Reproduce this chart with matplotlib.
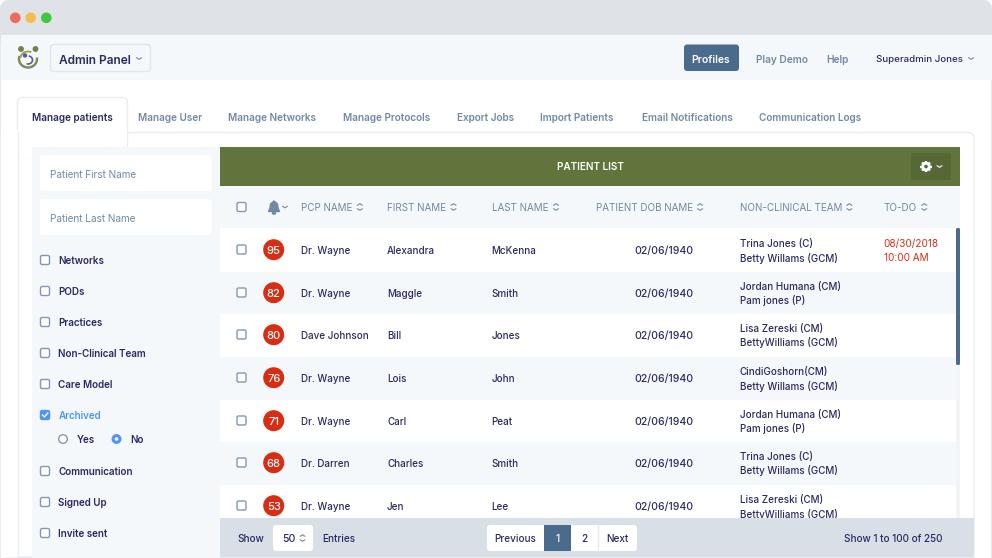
import math
import matplotlib
matplotlib.use("Agg")
import matplotlib.pyplot as plt
from matplotlib.patches import FancyBboxPatch, Rectangle, Circle, Arc, Polygon, Ellipse

plt.rcParams["font.family"] = ["Inter", "DejaVu Sans"]

# data
tabs = ["Manage patients", "Manage User", "Manage Networks", "Manage Protocols", "Export Jobs",
        "Import Patients", "Email Notifications", "Communication Logs"]
tab_x = [32, 138.5, 228, 343, 457, 539.5, 642, 759]
filters = ["Networks", "PODs", "Practices", "Non-Clinical Team", "Care Model", "Archived",
           "Communication", "Signed Up", "Invite sent"]
filter_y = [260, 291, 322, 353, 384, 415, 471, 502, 533]
columns = ["PCP NAME", "FIRST NAME", "LAST NAME", "PATIENT DOB NAME", "NON-CLINICAL TEAM", "TO-DO"]
column_x = [301, 387, 492, 595.5, 739.5, 883.5]
scores = [95, 82, 80, 76, 71, 68, 53]
row_y = [250, 293, 335, 378, 421, 463, 506]
pcp = ["Dr. Wayne", "Dr. Wayne", "Dave Johnson", "Dr. Wayne", "Dr. Wayne", "Dr. Darren", "Dr. Wayne"]
first_names = ["Alexandra", "Maggle", "Bill", "Lois", "Carl", "Charles", "Jen"]
last_names = ["McKenna", "Smith", "Jones", "John", "Peat", "Smith", "Lee"]
dob = ["02/06/1940"] * 7
team_1 = ["Trina Jones (C)", "Jordan Humana (CM)", "Lisa Zereski (CM)", "CindiGoshorn(CM)",
          "Jordan Humana (CM)", "Trina Jones (C)", "Lisa Zereski (CM)"]
team_2 = ["Betty Willams (GCM)", "Pam jones (P)", "BettyWilliams (GCM)", "Betty Willams (GCM)",
          "Pam jones (P)", "Betty Willams (GCM)", "BettyWilliams (GCM)"]

NAVY = "#2a2a63"
SLATE = "#7189a6"
PALE = "#f4f8fb"
GREEN = "#60743c"
RED = "#d92c12"
BLUE = "#4a6b8c"
BRIGHT = "#4d94ff"
FOOT = "#d8dfe6"


def rect(ax, x, y, w, h, color, z=1):
    ax.add_patch(Rectangle((x, y), w, h, facecolor=color, edgecolor="none", zorder=z))


def rounded(ax, x, y, w, h, color, edge="none", r=3, z=2, lw=1):
    ax.add_patch(FancyBboxPatch((x + r, y + r), w - 2 * r, h - 2 * r, boxstyle=f"round,pad={r}",
                                facecolor=color, edgecolor=edge, linewidth=lw, zorder=z))


def label(ax, x, y, s, size=7.1, color=NAVY, weight="medium", ha="left", z=6):
    ax.text(x, y - 0.5, s, fontsize=size, color=color, fontweight=weight, ha=ha, va="center_baseline", zorder=z)


def chevron(ax, x, y, color=SLATE, up=False, w=2.5, h=1.6, lw=0.8):
    d = -h if up else h
    ax.plot([x - w, x, x + w], [y - d / 2, y + d / 2, y - d / 2], color=color, lw=lw, zorder=z_top,
            solid_capstyle="round")


def sorter(ax, x, y, color=SLATE):
    chevron(ax, x, y - 2.5, color, up=True)
    chevron(ax, x, y + 2.5, color)


def checkbox(ax, x, y, color="white", edge="#8098b3"):
    rounded(ax, x - 4.5, y - 4.5, 9, 9, color, edge, r=1.6, z=5, lw=1)


def gear(ax, x, y, color="white"):
    ax.add_patch(Circle((x, y), 3.3, facecolor="none", edgecolor=color, lw=2.1, zorder=7))
    for k in range(8):
        a = k * math.pi / 4
        ax.plot([x + 4 * math.cos(a), x + 5.6 * math.cos(a)], [y + 4 * math.sin(a), y + 5.6 * math.sin(a)],
                color=color, lw=1.7, zorder=7, solid_capstyle="butt")


z_top = 10
fig = plt.figure(figsize=(9.92, 5.58), dpi=100)
ax = fig.add_axes([0, 0, 1, 1])
ax.set_xlim(0, 992)
ax.set_ylim(558, 0)
ax.axis("off")

# window chrome
rounded(ax, 0, 0, 992, 600, "white", "#dfe2e6", r=12, z=0)
rounded(ax, 0, 0, 992, 50, "#dfe2e6", r=12, z=1)
rect(ax, 0.5, 35, 991, 45, PALE, 2)
for cx, c in zip([15.3, 30.7, 46.3], ["#ee6a5f", "#f5bd4f", "#3fc83f"]):
    ax.add_patch(Circle((cx, 17.8), 4.6, color=c, zorder=3))

# logo
ax.add_patch(Circle((21, 49), 2.2, color="#6d8148", zorder=5))
ax.add_patch(Circle((35.5, 49), 2.2, color="#6d8148", zorder=5))
ax.add_patch(Arc((28, 59), 18, 17, theta1=350, theta2=200, color="#7d8f55", lw=1.8, zorder=5))
ax.add_patch(Arc((28, 58), 15, 13, theta1=180, theta2=300, color="#9aa36a", lw=1.4, zorder=5))
ax.add_patch(Circle((25, 55.5), 1.5, color="#5a5a95", zorder=5))
ax.add_patch(Arc((28, 60), 9, 8, theta1=280, theta2=110, color="#5a5a95", lw=1.2, zorder=5))

# top nav
rounded(ax, 50.5, 44.5, 100, 27, PALE, "#dfe5ea", r=4, z=3)
label(ax, 59, 60.5, "Admin Panel", 8.6, NAVY, "semibold")
chevron(ax, 139, 58.5)
rounded(ax, 684, 44.5, 55, 26.5, BLUE, r=3, z=3)
label(ax, 711, 59.7, "Profiles", 7.5, "white", "semibold", ha="center")
label(ax, 756, 59.8, "Play Demo", 7.3, SLATE, "semibold")
label(ax, 826.5, 59.8, "Help", 7.3, SLATE, "semibold")
label(ax, 876.5, 58.7, "Superadmin Jones", 6.95, NAVY, "medium")
chevron(ax, 971, 58.5)

# card and tabs
rounded(ax, 0.5, 132.5, 973.5, 424.5, "white", "#e9edf1", r=6, z=2)
rounded(ax, 17.5, 97.5, 110, 60, "white", "#e9edf1", r=5, z=3)
rect(ax, 18.2, 128, 108.6, 30, "white", 3)
rect(ax, 0.6, 130, 16.9, 30, "white", 3)
rect(ax, 0.6, 132, 17.4, 425, "white", 3)
ax.plot([18, 18], [132, 557], color="#e9edf1", lw=1, zorder=3)
ax.plot([18, 974], [557, 557], color="#e9edf1", lw=1, zorder=3)
for i, (name, x) in enumerate(zip(tabs, tab_x)):
    label(ax, x, 117.5, name, 7.2, NAVY if i == 0 else SLATE, "semibold")

# filter panel
rect(ax, 32, 147, 188, 411, PALE, 3)
for y, h, s in [(155, 36, "Patient First Name"), (199, 36, "Patient Last Name")]:
    rounded(ax, 40, y, 171.5, h, "white", r=3, z=4)
    label(ax, 50.5, y + 19.5, s, 7.2, SLATE, "normal")
for name, y in zip(filters, filter_y):
    on = name == "Archived"
    checkbox(ax, 45, y, BRIGHT if on else "white", BRIGHT if on else "#8098b3")
    if on:
        ax.plot([42.5, 44.5, 47.8], [y, y + 2, y - 2], color="white", lw=1, zorder=7)
    label(ax, 58.5, y + 0.5, name, 7.1, BRIGHT if on else NAVY, "semibold")
ax.add_patch(Circle((63, 439), 4.3, facecolor="white", edgecolor="#7a8ca3", lw=0.9, zorder=5))
label(ax, 76.5, 439.7, "Yes", 7.1, NAVY, "semibold")
ax.add_patch(Circle((116.5, 439), 3.4, facecolor="white", edgecolor=BRIGHT, lw=2.2, zorder=5))
label(ax, 130, 439.7, "No", 7.1, NAVY, "semibold")

# table header
rect(ax, 220, 147, 740, 39, GREEN, 4)
label(ax, 590, 167, "PATIENT LIST", 7.2, "white", "semibold", ha="center")
rounded(ax, 911, 153, 40, 27, "#556836", r=3, z=5)
gear(ax, 926, 166.5)
chevron(ax, 939.5, 166.5, "white")
rect(ax, 220, 186, 740, 42, PALE, 4)
checkbox(ax, 241.5, 207)
ax.add_patch(Polygon([(268.5, 211.5), (270, 208), (270.5, 204), (274, 201), (277.5, 204), (278, 208),
                      (279.5, 211.5)], color=SLATE, zorder=6))
ax.add_patch(Ellipse((274, 213), 3, 2.4, color=SLATE, zorder=6))
chevron(ax, 285, 207)
for name, x in zip(columns, column_x):
    t = ax.text(x, 207, name, fontsize=7.1, color=SLATE, ha="left", va="center_baseline", zorder=6)
    w = t.get_window_extent(fig.canvas.get_renderer()).width
    sorter(ax, x + w + 7.5, 207)

# rows
pitch = 42.7
for i, y in enumerate(row_y):
    rect(ax, 220, y - pitch / 2, 736, pitch + 0.3, "white" if i % 2 == 0 else PALE, 4)
    checkbox(ax, 241.5, y - 0.5)
    ax.add_patch(Circle((273.7, y - 0.3), 9.8, color=RED, zorder=5))
    label(ax, 273.7, y + 0.3, str(scores[i]), 8, "white", "medium", ha="center")
    label(ax, 301, y + 0.5, pcp[i])
    label(ax, 387, y + 0.5, first_names[i])
    label(ax, 491.5, y + 0.5, last_names[i])
    label(ax, 634, y + 0.5, dob[i], 7.5)
    label(ax, 739.5, y - 6.5, team_1[i])
    label(ax, 739.5, y + 7.5, team_2[i])
label(ax, 883.5, 243.5, "08/30/2018", 7.2, RED, "normal")
label(ax, 883.5, 257.5, "10:00 AM", 7.2, RED, "normal")

# scrollbar
rect(ax, 956, 228, 4, 290, "#f2f4f6", 5)
rounded(ax, 956, 228, 4, 137, BLUE, r=1.5, z=6)

# footer
rect(ax, 220, 518, 754, 39, FOOT, 7)
label(ax, 237, 538.5, "Show", 7.2, z=9)
rounded(ax, 273, 525, 40, 26, "white", r=3, z=8)
label(ax, 282, 538.5, "50", 7.6, z=9)
label(ax, 322.5, 538.5, "Entries", 7.2, z=9)
sorter(ax, 302.5, 538)
rounded(ax, 487, 525, 150, 26, "white", r=3, z=8)
rect(ax, 544, 525, 27, 26, BLUE, 9)
ax.plot([597.5, 597.5], [525, 551], color="#e6eaee", lw=1, zorder=9)
for x, s, c in [(515, "Previous", NAVY), (557.5, "1", "white"), (584.5, "2", NAVY), (617, "Next", NAVY)]:
    label(ax, x, 538.5, s, 7.2, c, ha="center", z=10)
label(ax, 942, 538.5, "Show 1 to 100 of 250", 7.15, ha="right", z=9)

fig.savefig("out.png", dpi=100)
